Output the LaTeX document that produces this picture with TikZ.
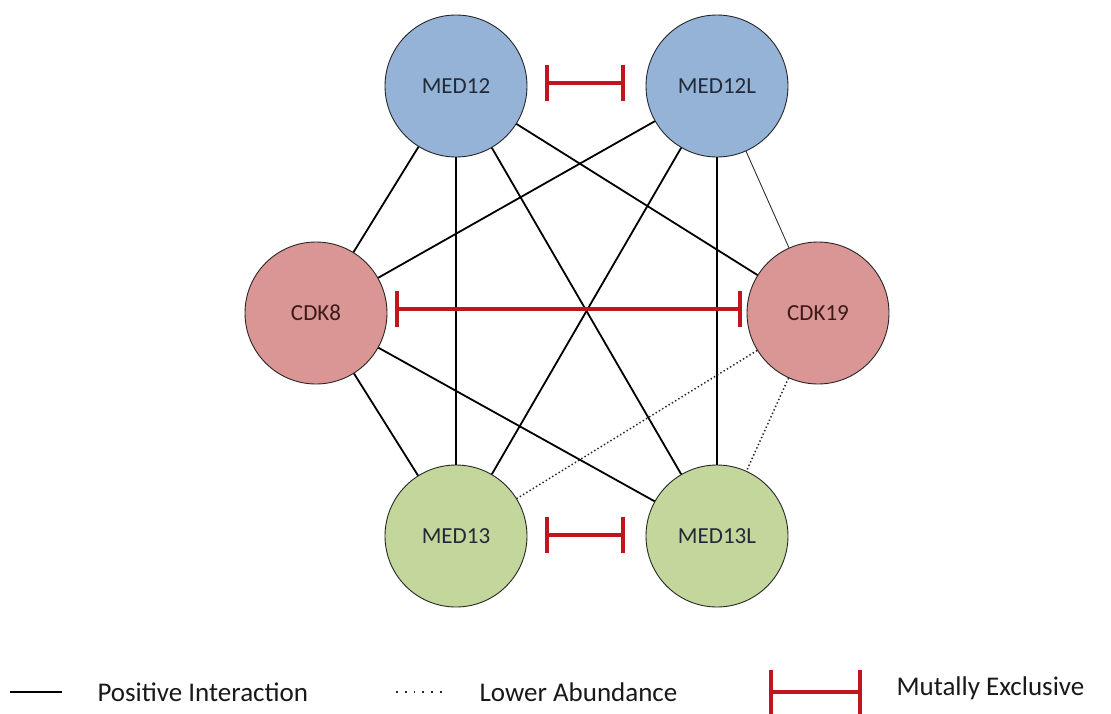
\documentclass[tikz,border=0pt]{standalone}
\usepackage{fontspec}
\setmainfont{Carlito}
\usetikzlibrary{arrows.meta}
\definecolor{nblue}{RGB}{149,179,215}
\definecolor{nred}{RGB}{217,150,148}
\definecolor{ngreen}{RGB}{195,214,155}
\definecolor{barred}{RGB}{192,20,30}
\definecolor{medtext}{RGB}{35,42,55}
\definecolor{cdktext}{RGB}{60,25,25}
\begin{document}
\begin{tikzpicture}[x=1pt,y=-1pt,
  gnode/.style={circle,draw=black!85,line width=0.9pt,minimum size=142pt,inner sep=0pt,font=\fontsize{23}{25}\selectfont},
  bnode/.style={gnode,fill=nblue,text=medtext},
  rnode/.style={gnode,fill=nred,text=cdktext},
  grnode/.style={gnode,fill=ngreen,text=medtext},
  posline/.style={line width=1.8pt,black},
  thinline/.style={line width=0.9pt,black!80},
  lowline/.style={line width=1.5pt,black!85,dash pattern=on 1.4pt off 2.4pt},
  exbar/.style={line width=3.2pt,barred,{Bar[width=36pt]}-{Bar[width=36pt]}},
  legtext/.style={anchor=west,font=\fontsize{27}{30}\selectfont,text=black!90}]
\useasboundingbox (0,0) rectangle (1111,713);
\fill[white] (0,0) rectangle (1111,713);

\coordinate (cMED12) at (456,86);
\coordinate (cMED12L) at (717,86);
\coordinate (cCDK8) at (316,313);
\coordinate (cCDK19) at (818,313);
\coordinate (cMED13) at (456,536);
\coordinate (cMED13L) at (717,536);

\node[bnode] (MED12) at (cMED12) {MED12};
\node[bnode] (MED12L) at (cMED12L) {MED12L};
\node[rnode] (CDK8) at (cCDK8) {CDK8};
\node[rnode] (CDK19) at (cCDK19) {CDK19};
\node[grnode] (MED13) at (cMED13) {MED13};
\node[grnode] (MED13L) at (cMED13L) {MED13L};

\draw[posline] (MED12) -- (CDK8);
\draw[posline] (MED12) -- (MED13);
\draw[posline] (MED12) -- (MED13L);
\draw[posline] (MED12) -- (CDK19);
\draw[posline] (MED12L) -- (CDK8);
\draw[posline] (MED12L) -- (MED13);
\draw[posline] (MED12L) -- (MED13L);
\draw[thinline] (MED12L) -- (CDK19);
\draw[posline] (CDK8) -- (MED13);
\draw[posline] (CDK8) -- (MED13L);
\draw[lowline] (CDK19) -- (MED13);
\draw[lowline] (CDK19) -- (MED13L);

% mutually exclusive bars
\draw[exbar,shorten <=18pt,shorten >=21pt] ([yshift=3pt]MED12.east) -- ([yshift=3pt]MED12L.west);
\draw[exbar,shorten <=8pt,shorten >=5pt] ([yshift=4pt]CDK8.east) -- ([yshift=4pt]CDK19.west);
\draw[exbar,shorten <=18pt,shorten >=21pt] ([yshift=1pt]MED13.east) -- ([yshift=1pt]MED13L.west);

% legend
\coordinate (l1a) at (10,692);
\coordinate (l1b) at (62,692);
\draw[line width=2.8pt,black] (l1a) -- (l1b);
\node[legtext] (t1) at (94,692) {Positive Interaction};
\coordinate (l2a) at (396,692);
\coordinate (l2b) at (446,692);
\draw[black!85,line width=2pt,dash pattern=on 1.8pt off 7pt] (l2a) -- (l2b);
\node[legtext] (t2) at (476,692) {Lower Abundance};
\coordinate (l3a) at (769,692);
\coordinate (l3b) at (862,692);
\draw[line width=4pt,barred,{Bar[width=44pt]}-{Bar[width=44pt]}] (l3a) -- (l3b);
\node[legtext] (t3) at (893,688) {Mutally Exclusive};
\end{tikzpicture}
\end{document}
